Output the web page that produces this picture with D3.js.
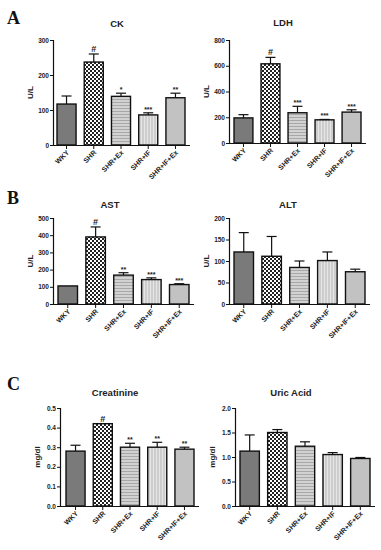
<!DOCTYPE html>
<html><head><meta charset="utf-8">
<script src="https://cdn.jsdelivr.net/npm/d3@7/dist/d3.min.js"></script>
<style>body{margin:0;background:#fff}svg{display:block}</style>
</head><body>
<script>
const groups = ["WKY","SHR","SHR+Ex","SHR+IF","SHR+IF+Ex"];
const ckMean = [117,237,139,86,135];
const ckErr  = [23,23,9,6,13];
const ckSig  = ["","#","*","***","**"];
const ldhMean = [195,615,235,180,240];
const ldhErr  = [25,50,50,3,18];
const ldhSig  = ["","#","***","***","***"];
const astMean = [105,390,168,142,113];
const astErr  = [0,58,14,10,5];
const astSig  = ["","#","**","***","***"];
const altMean = [121,111,85,101,75];
const altErr  = [45,46,15,20,6];
const altSig  = ["","","","",""];
const creMean = [0.28,0.42,0.30,0.30,0.29];
const creErr  = [0.03,0.0,0.02,0.025,0.01];
const creSig  = ["","#","**","**","**"];
const uaMean = [1.12,1.50,1.22,1.05,0.97];
const uaErr  = [0.33,0.06,0.09,0.04,0.02];
const uaSig  = ["","","","",""];
const ckTicks = [0,100,200,300];
const ldhTicks = [0,200,400,600,800];
const astTicks = [0,100,200,300,400,500];
const altTicks = [0,50,100,150,200];
const creTicks = [0,0.1,0.2,0.3,0.4,0.5];
const uaTicks = [0,0.5,1.0,1.5,2.0];

const svg = d3.select("body").append("svg").attr("width",381).attr("height",550);
const defs = svg.append("defs");
const pCheck = defs.append("pattern").attr("id","pCheck").attr("width",4).attr("height",4).attr("patternUnits","userSpaceOnUse");
pCheck.append("rect").attr("width",4).attr("height",4).attr("fill","#fff");
pCheck.append("rect").attr("width",2).attr("height",2).attr("fill","#222");
pCheck.append("rect").attr("x",2).attr("y",2).attr("width",2).attr("height",2).attr("fill","#222");
const pH = defs.append("pattern").attr("id","pH").attr("width",4).attr("height",3).attr("patternUnits","userSpaceOnUse");
pH.append("rect").attr("width",4).attr("height",3).attr("fill","#d2d2d2");
pH.append("rect").attr("width",4).attr("height",1).attr("fill","#a8a8a8");
const pV = defs.append("pattern").attr("id","pV").attr("width",3).attr("height",4).attr("patternUnits","userSpaceOnUse");
pV.append("rect").attr("width",3).attr("height",4).attr("fill","#cdcdcd");
pV.append("rect").attr("width",1).attr("height",4).attr("fill","#e6e6e6");
const fills = ["#7a7a7a","url(#pCheck)","url(#pH)","url(#pV)","#c2c2c2"];

const panels = [
 {title:"CK", mean:ckMean, err:ckErr, sig:ckSig, ticks:ckTicks, fmt:d=>d, ylab:"U/L", ax:53, b0:57, b1:185, top:40, bot:145, tx:117, ty:27},
 {title:"LDH", mean:ldhMean, err:ldhErr, sig:ldhSig, ticks:ldhTicks, fmt:d=>d, ylab:"U/L", ax:229, b0:234, b1:361, top:40, bot:143, tx:283, ty:26},
 {title:"AST", mean:astMean, err:astErr, sig:astSig, ticks:astTicks, fmt:d=>d, ylab:"U/L", ax:53, b0:58, b1:189, top:218, bot:304, tx:110, ty:208},
 {title:"ALT", mean:altMean, err:altErr, sig:altSig, ticks:altTicks, fmt:d=>d, ylab:"U/L", ax:229, b0:234, b1:365, top:218, bot:304, tx:288, ty:208},
 {title:"Creatinine", mean:creMean, err:creErr, sig:creSig, ticks:creTicks, fmt:d3.format(".1f"), ylab:"mg/dl", ax:60, b0:66, b1:194, top:408, bot:506, tx:115, ty:396},
 {title:"Uric Acid", mean:uaMean, err:uaErr, sig:uaSig, ticks:uaTicks, fmt:d3.format(".1f"), ylab:"mg/dl", ax:235, b0:240, b1:370, top:408, bot:506, tx:291, ty:396}
];

const font = "Arial, 'Liberation Sans', sans-serif";
panels.forEach(p => {
  const g = svg.append("g");
  const x = d3.scaleBand().domain(groups).range([p.b0,p.b1]).paddingInner(0.3).paddingOuter(0);
  const y = d3.scaleLinear().domain([p.ticks[0], p.ticks[p.ticks.length-1]]).range([p.bot,p.top]);
  g.selectAll("rect.bar").data(groups).join("rect")
   .attr("x",d=>x(d)).attr("width",x.bandwidth())
   .attr("y",(d,i)=>y(p.mean[i])).attr("height",(d,i)=>p.bot-y(p.mean[i]))
   .attr("fill",(d,i)=>fills[i]).attr("stroke","#111").attr("stroke-width",1.4);
  groups.forEach((d,i)=>{
    if(p.err[i]<=0) return;
    const cx = x(d)+x.bandwidth()/2;
    const yt = y(p.mean[i]+p.err[i]);
    g.append("line").attr("x1",cx).attr("x2",cx).attr("y1",y(p.mean[i])).attr("y2",yt).attr("stroke","#111").attr("stroke-width",1.2);
    g.append("line").attr("x1",cx-5).attr("x2",cx+5).attr("y1",yt).attr("y2",yt).attr("stroke","#111").attr("stroke-width",1.2);
  });
  groups.forEach((d,i)=>{
    if(!p.sig[i]) return;
    const cx = x(d)+x.bandwidth()/2;
    const yt = y(p.mean[i]+p.err[i]);
    g.append("text").attr("x",cx).attr("y",yt-(p.sig[i]=="#"?2:1)).attr("text-anchor","middle")
     .attr("font-family",font).attr("font-weight","bold")
     .attr("font-size",p.sig[i]=="#"?9:7).attr("fill","#222").text(p.sig[i]);
  });
  const ya = d3.axisLeft(y).tickValues(p.ticks).tickFormat(p.fmt).tickSize(3).tickPadding(1);
  const yg = g.append("g").attr("transform",`translate(${p.ax},0)`).call(ya);
  yg.select(".domain").attr("stroke","#111").attr("stroke-width",1.2);
  yg.selectAll(".tick line").attr("stroke","#111");
  yg.selectAll("text").attr("font-family",font).attr("font-weight","bold").attr("font-size",6.5).attr("fill","#222");
  const xa = d3.axisBottom(x).tickSize(4).tickSizeOuter(0).tickFormat("");
  const xg = g.append("g").attr("transform",`translate(0,${p.bot})`).call(xa);
  xg.select(".domain").attr("d",`M${p.ax},0.5H${p.b1+5}`).attr("stroke","#111").attr("stroke-width",1.2);
  xg.selectAll(".tick line").attr("stroke","#111");
  groups.forEach(d=>{
    const cx = x(d)+x.bandwidth()/2 + 3;
    g.append("text").attr("transform",`translate(${cx},${p.bot+8}) rotate(-45)`)
     .attr("text-anchor","end").attr("font-family",font).attr("font-weight","bold")
     .attr("font-size",7).attr("fill","#222").text(d);
  });
  g.append("text").attr("x",p.tx).attr("y",p.ty).attr("text-anchor","middle")
   .attr("font-family",font).attr("font-weight","bold").attr("font-size",9.5).attr("fill","#222").text(p.title);
  g.append("text").attr("transform",`translate(${p.ax-20},${(p.top+p.bot)/2}) rotate(-90)`)
   .attr("text-anchor","middle").attr("font-family",font).attr("font-weight","bold").attr("font-size",8).attr("fill","#222").text(p.ylab);
});

[["A",7,24],["B",7,204],["C",7,390]].forEach(([t,xx,yy])=>{
  svg.append("text").attr("x",xx).attr("y",yy).attr("font-family","'Liberation Serif','DejaVu Serif',serif")
   .attr("font-weight","bold").attr("font-size",18).attr("fill","#111").text(t);
});
</script>
</body></html>
